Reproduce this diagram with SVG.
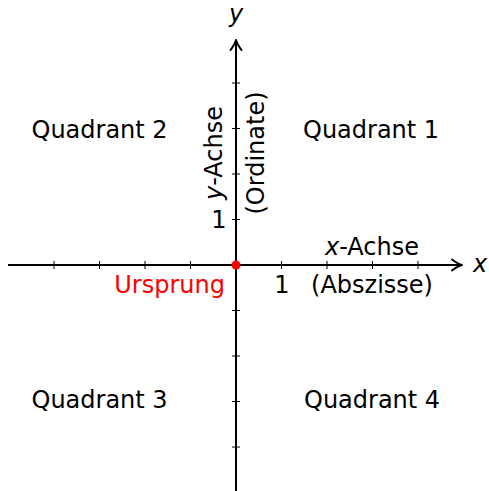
<svg xmlns="http://www.w3.org/2000/svg" width="489" height="491" viewBox="0 0 489 491">
<style>
.t{font-family:"DejaVu Sans",sans-serif;font-size:24px;fill:#000}
.i{font-style:italic}
.ax{stroke:#000;stroke-width:2;fill:none}
.tk{stroke:#000;stroke-width:1;fill:none}
.ah{stroke:#000;stroke-width:2;fill:none;stroke-linecap:round;stroke-linejoin:round}
</style>
<g id="connectors">
<line class="ax" x1="8" y1="265" x2="461" y2="265"/>
<path class="ah" d="M452,259.5 Q458,264 462,265 Q458,266 452,270.5"/>
<line class="ax" x1="236" y1="491" x2="236" y2="41"/>
<path class="ah" d="M230.5,50 Q235,44 236,40 Q237,44 241.5,50"/>
<path class="tk" d="M54,261v8M99.5,261v8M145,261v8M190.5,261v8M281.5,261v8M327,261v8M372.5,261v8M418,261v8"/>
<path class="tk" d="M232,83h8M232,128.5h8M232,174h8M232,219.5h8M232,310.5h8M232,356h8M232,401.5h8M232,447h8"/>
</g>
<g id="origin"><circle cx="236" cy="265" r="4.5" fill="#ff0000"/><text class="t" x="225" y="293" text-anchor="end" style="fill:#ff0000">Ursprung</text></g>
<g id="label-y"><text class="t i" x="236" y="22" text-anchor="middle">y</text></g>
<g id="label-x"><text class="t i" x="480" y="272" text-anchor="middle">x</text></g>
<g id="x-axis-label"><text class="t" x="372" y="255" text-anchor="middle"><tspan class="i">x</tspan>-Achse</text><text class="t" x="372" y="293" text-anchor="middle">(Abszisse)</text></g>
<g id="y-axis-label" transform="translate(0,153) rotate(-90)"><text class="t" x="0" y="222" text-anchor="middle"><tspan class="i">y</tspan>-Achse</text><text class="t" x="0" y="264" text-anchor="middle">(Ordinate)</text></g>
<g id="tick-x1"><text class="t" x="282" y="293" text-anchor="middle">1</text></g>
<g id="tick-y1"><text class="t" x="219" y="228" text-anchor="middle">1</text></g>
<g id="q1"><text class="t" x="303" y="138">Quadrant 1</text></g>
<g id="q2"><text class="t" x="31.5" y="138">Quadrant 2</text></g>
<g id="q3"><text class="t" x="31.5" y="408">Quadrant 3</text></g>
<g id="q4"><text class="t" x="304" y="408">Quadrant 4</text></g>
</svg>
